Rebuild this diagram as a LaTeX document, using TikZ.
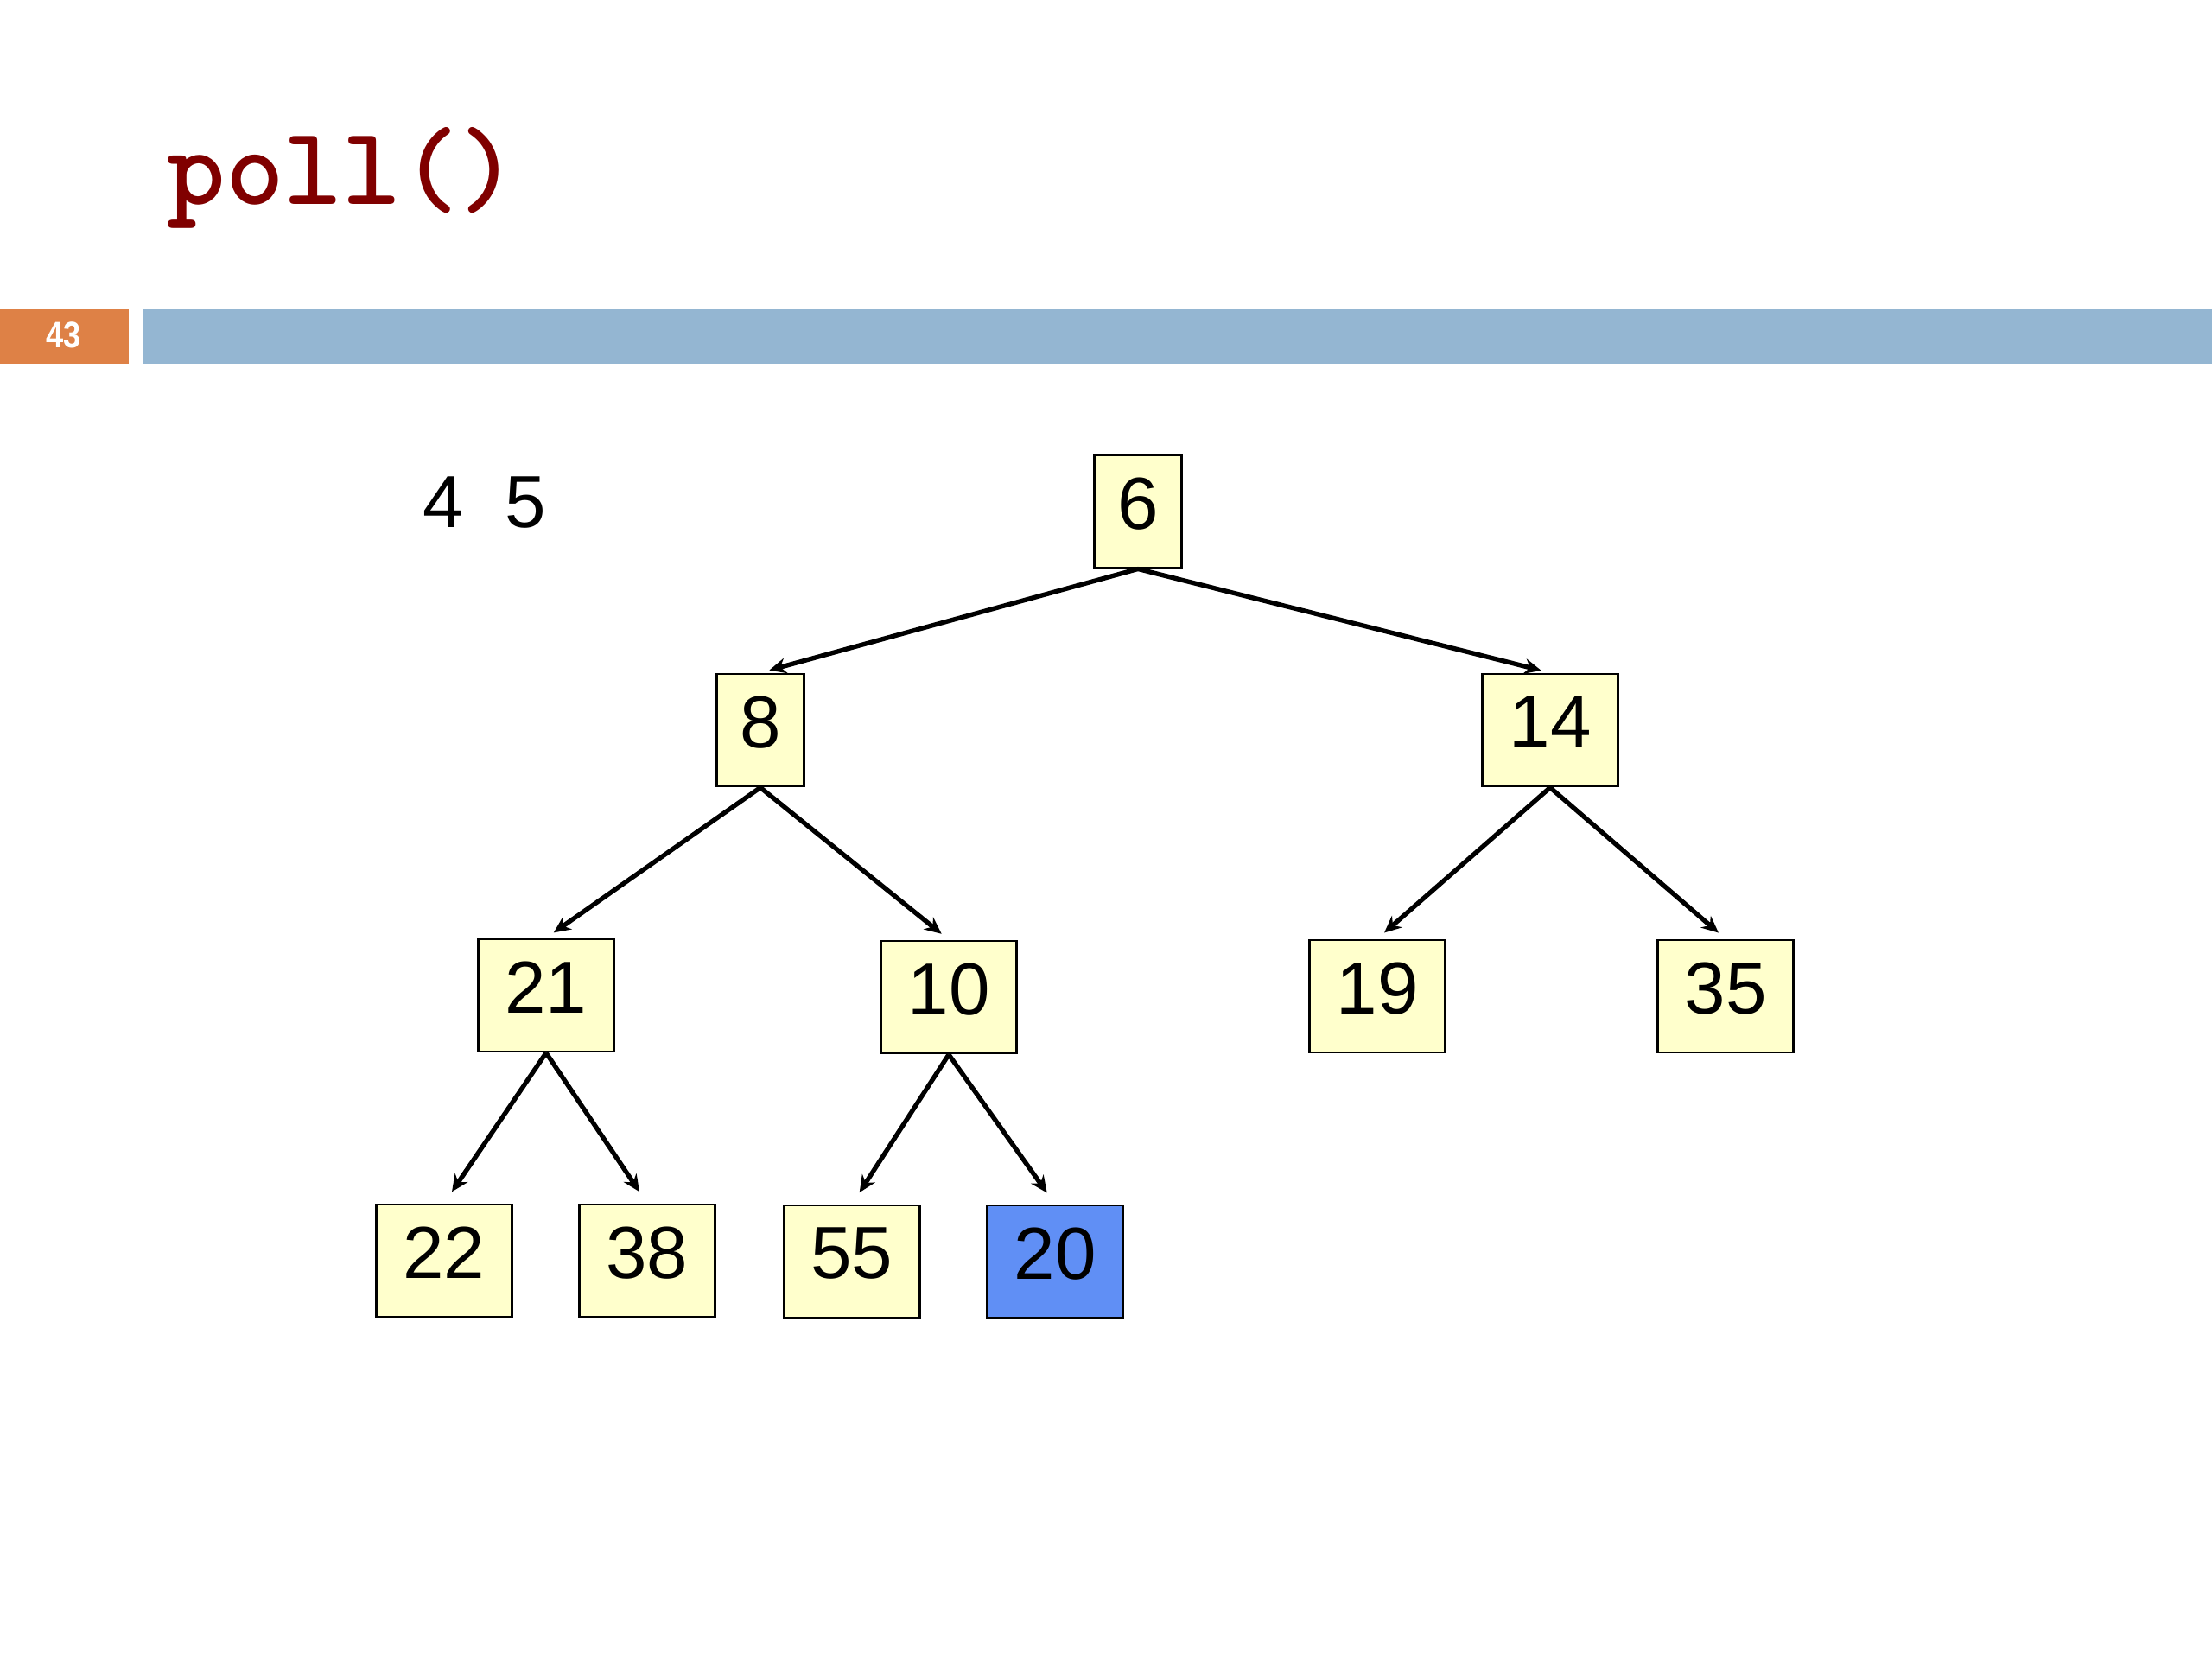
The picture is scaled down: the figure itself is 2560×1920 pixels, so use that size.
\documentclass[tikz,border=0pt]{standalone}
\usepackage{fontspec}
\setmainfont{Liberation Sans}
\usetikzlibrary{arrows.meta}
\definecolor{boxfill}{RGB}{255,255,204}
\definecolor{hilite}{RGB}{96,143,245}
\definecolor{titlered}{RGB}{128,0,0}
\definecolor{barorange}{RGB}{222,129,70}
\definecolor{barblue}{RGB}{148,182,210}
\begin{document}
\begin{tikzpicture}[x=0.28125pt,y=-0.28125pt,
  heapbox/.style={draw=black, line width=0.8pt, fill=boxfill, minimum height=36.6pt,
    inner sep=0pt, font=\fontsize{24}{28}\selectfont, text depth=5.5pt},
  onedig/.style={minimum width=28.4pt},
  twodig/.style={minimum width=44.2pt},
  link/.style={line width=1.5pt, -{Stealth[length=5.5pt,width=5pt]}, shorten >=3pt},
  lowlink/.style={link, shorten >=4.5pt}]
\useasboundingbox (0,0) rectangle (2560,1920);
\fill[white] (0,0) rectangle (2560,1920);
% header
\node[anchor=base west, inner sep=0pt, text=titlered,
  font=\ttfamily\bfseries\fontsize{36.2}{40}\selectfont] (title) at (193,237) {poll()};
\fill[barorange] (0,358) rectangle (149,421);
\fill[barblue] (165,358) rectangle (2560,421);
\node[text=white, font=\bfseries\fontsize{12}{14}\selectfont, inner sep=0pt] (pagenum) at (74,388) {\addfontfeature{FakeStretch=0.85}43};
% extracted values
\node[anchor=base west, inner sep=0pt, font=\fontsize{24}{28}\selectfont] (out) at (489,611) {4 \ 5};
% heap nodes
\node[heapbox, onedig] (n6) at (1317,592) {6};
\node[heapbox, onedig] (n8) at (880,845) {8};
\node[heapbox, twodig] (n14) at (1794,845) {14};
\node[heapbox, twodig] (n21) at (632,1152) {21};
\node[heapbox, twodig] (n10) at (1098,1154) {10};
\node[heapbox, twodig] (n19) at (1594,1153) {19};
\node[heapbox, twodig] (n35) at (1997,1153) {35};
\node[heapbox, twodig] (n22) at (514,1459) {22};
\node[heapbox, twodig] (n38) at (749,1459) {38};
\node[heapbox, twodig] (n55) at (986,1460) {55};
\node[heapbox, twodig, fill=hilite] (n20) at (1221,1460) {20};
% connectors
\draw[link] (n6.south) -- (n8.north);
\draw[link] (n6.south) -- (n14.north);
\draw[link] (n8.south) -- (n21.north);
\draw[link] (n8.south) -- (n10.north);
\draw[link] (n14.south) -- (n19.north);
\draw[link] (n14.south) -- (n35.north);
\draw[lowlink] (n21.south) -- (n22.north);
\draw[lowlink] (n21.south) -- (n38.north);
\draw[lowlink] (n10.south) -- (n55.north);
\draw[lowlink] (n10.south) -- (n20.north);
\end{tikzpicture}
\end{document}
